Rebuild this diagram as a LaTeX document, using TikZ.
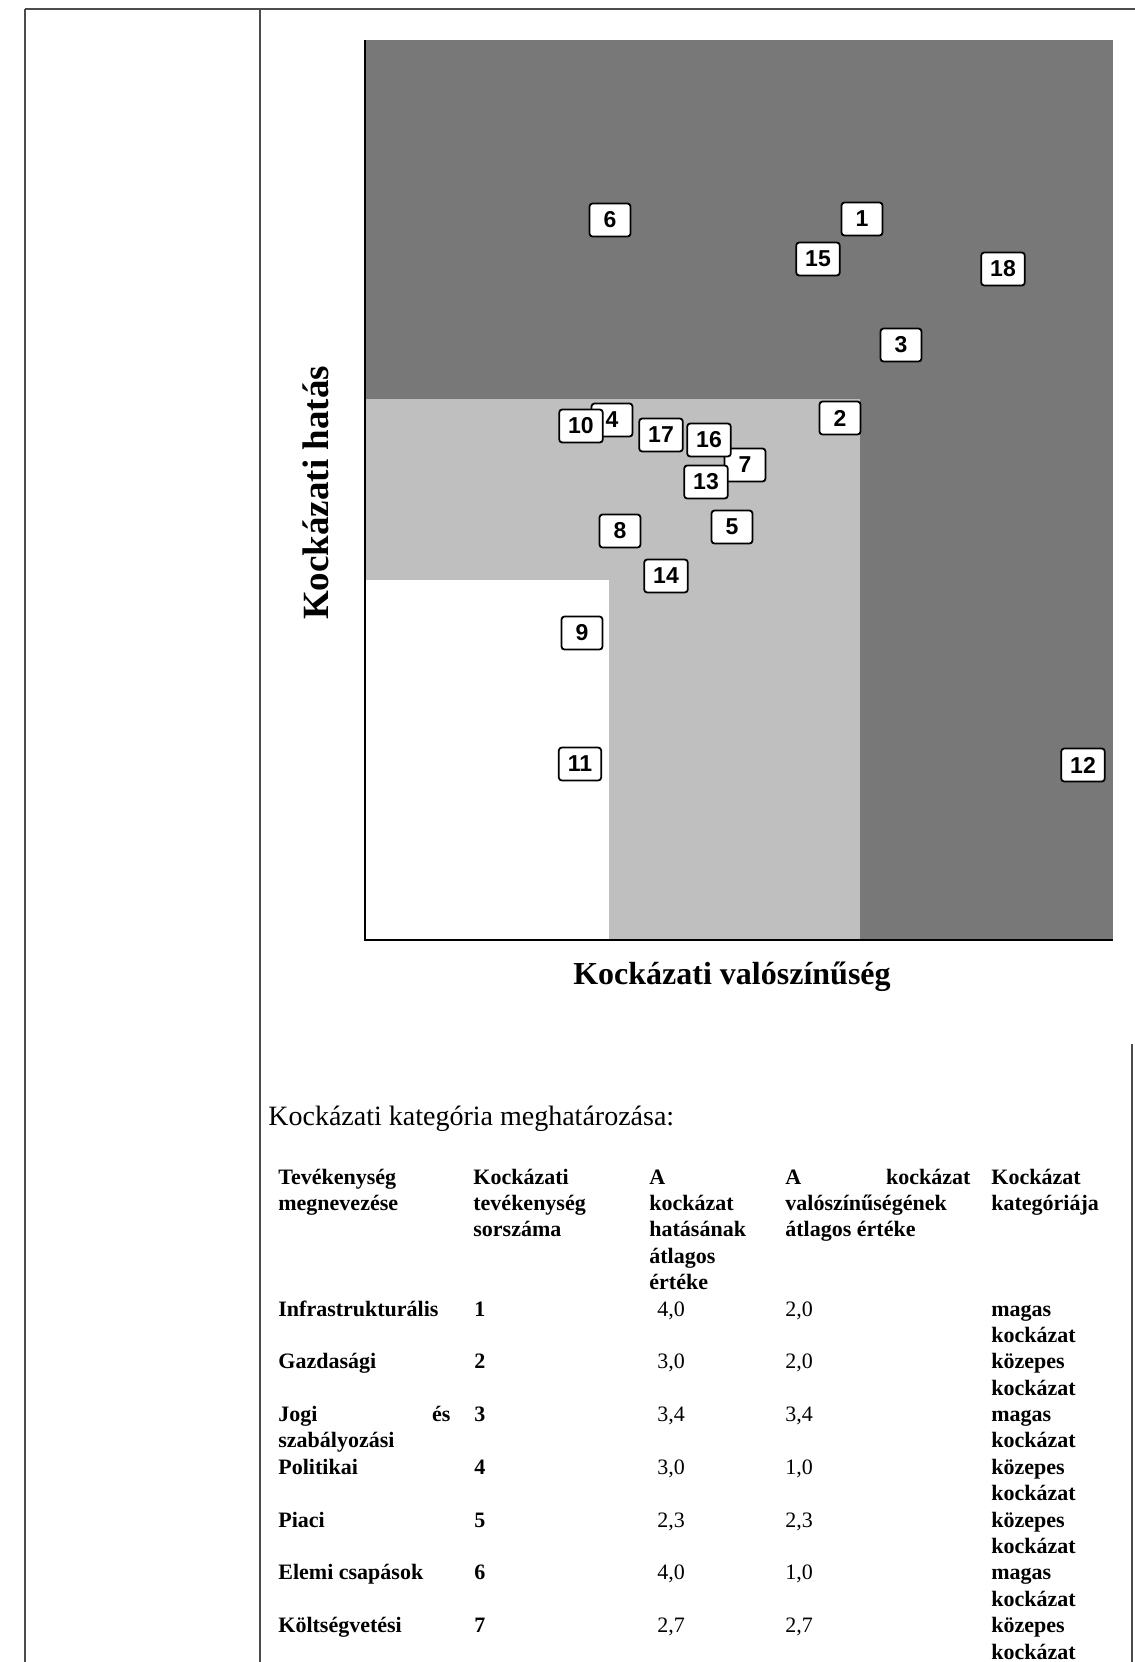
\documentclass[tikz,border=0pt]{standalone}
\usepackage{fontspec}
\setmainfont{Liberation Serif}
\newfontfamily\boxfont{Liberation Sans}
\definecolor{darkzone}{gray}{0.47}
\definecolor{lightzone}{gray}{0.75}
\definecolor{frameline}{gray}{0.3}
\begin{document}
\begin{tikzpicture}[x=0.5pt,y=-0.5pt,
  pageline/.style={draw=frameline,line width=0.6pt},
  riskbox/.style={draw=black,fill=white,rounded corners=1.5pt,line width=0.9pt,
    font=\boxfont\bfseries\fontsize{11.5}{13}\selectfont,
    minimum width=20.5pt,minimum height=16.5pt,inner xsep=4.5pt,inner ysep=0pt},
  th/.style={anchor=base west,inner sep=0pt,font=\bfseries\fontsize{11}{13}\selectfont},
  td/.style={anchor=base west,inner sep=0pt,font=\fontsize{11}{13}\selectfont}]
\useasboundingbox (0,0) rectangle (1135,1662);
\fill[white] (0,0) rectangle (1135,1662);
% page frame
\draw[pageline] (25,9) -- (1135,9);
\draw[pageline] (25,9) -- (25,1662);
\draw[pageline] (260,9) -- (260,1662);
\draw[pageline] (1132,1044) -- (1132,1662);
% risk zones
\fill[darkzone] (365,40) rectangle (1113,940);
\fill[lightzone] (365,399) rectangle (860,940);
\fill[white] (365,580) rectangle (609,940);
\draw[line width=1pt] (365,40) -- (365,940) -- (1113,940);
% axis labels
\node[font=\bfseries\fontsize{18.5}{20}\selectfont,rotate=90] (ylab) at (316,493) {Kockázati hatás};
\node[font=\bfseries\fontsize{16}{18}\selectfont] (xlab) at (732,977) {Kockázati valószínűség};
% risk boxes
\foreach \n/\x/\y in {6/610/220, 1/862/219, 15/818/259, 18/1003/269, 3/901/345, 2/840/418,
  4/612/420, 10/581/426, 17/661/435, 7/745/465, 16/709/440, 13/706/482, 8/620/531,
  5/732/527, 14/666/576, 9/582/633, 11/580/764, 12/1083/765}
  \node[riskbox] (rb\n) at (\x,\y) {\n};
% caption
\node[anchor=base west,inner sep=0pt,font=\fontsize{14}{16}\selectfont] (cap) at (268,1125) {Kockázati kategória meghatározása:};
% table header
\node[th] (h1a) at (278,1184) {Tevékenység};
\node[th] (h1b) at (278,1210.4) {megnevezése};
\node[th] (h2a) at (473,1184) {Kockázati};
\node[th] (h2b) at (473,1210.4) {tevékenység};
\node[th] (h2c) at (473,1236.8) {sorszáma};
\node[th] (h3a) at (649,1184) {A};
\node[th] (h3b) at (649,1210.4) {kockázat};
\node[th] (h3c) at (649,1236.8) {hatásának};
\node[th] (h3d) at (649,1263.2) {átlagos};
\node[th] (h3e) at (649,1289.6) {értéke};
\node[th] (h4a) at (785,1184) {\hbox to 92.5pt{A\hfill kockázat}};
\node[th] (h4b) at (785,1210.4) {valószínűségének};
\node[th] (h4c) at (785,1236.8) {átlagos értéke};
\node[th] (h5a) at (991,1184) {Kockázat};
\node[th] (h5b) at (991,1210.4) {kategóriája};
% table rows
\foreach \k/\nm/\hv/\pv/\cat in {1/Infrastrukturális/{4,0}/{2,0}/magas,
  2/Gazdasági/{3,0}/{2,0}/közepes,
  3/{\hbox to 86pt{Jogi\hfill és}}/{3,4}/{3,4}/magas,
  4/Politikai/{3,0}/{1,0}/közepes,
  5/Piaci/{2,3}/{2,3}/közepes,
  6/Elemi csapások/{4,0}/{1,0}/magas,
  7/Költségvetési/{2,7}/{2,7}/közepes}{
  \pgfmathsetmacro\yb{1316.0+52.78*(\k-1)}
  \pgfmathsetmacro\yc{\yb+26.39}
  \node[th] (name\k) at (278,\yb) {\nm};
  \node[th] (num\k) at (474,\yb) {\k};
  \node[td] (imp\k) at (657,\yb) {\hv};
  \node[td] (prob\k) at (785,\yb) {\pv};
  \node[th] (cat\k) at (991,\yb) {\cat};
  \node[th] (catb\k) at (991,\yc) {kockázat};
}
\node[th] (name3b) at (278,1447.9) {szabályozási};
\end{tikzpicture}
\end{document}
